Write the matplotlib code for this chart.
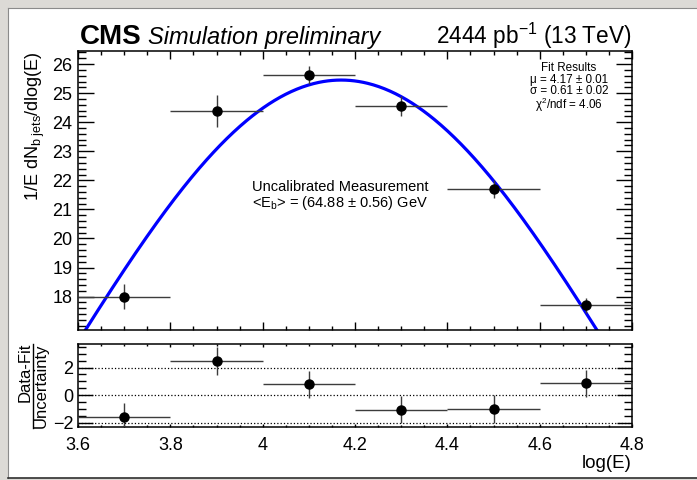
import numpy as np
import matplotlib.pyplot as plt
from matplotlib.ticker import MultipleLocator, FixedLocator
from matplotlib.patches import Rectangle
from matplotlib.lines import Line2D

plt.rcParams["font.family"] = ["Liberation Sans", "DejaVu Sans"]
plt.rcParams["mathtext.fontset"] = "custom"
plt.rcParams["mathtext.rm"] = "Liberation Sans"
plt.rcParams["mathtext.it"] = "Liberation Sans:italic"
plt.rcParams["mathtext.bf"] = "Liberation Sans:bold"

# b-jet energy spectrum, bins in log(E)
log_e = [3.7, 3.9, 4.1, 4.3, 4.5, 4.7]
bin_half = [0.1, 0.1, 0.1, 0.1, 0.1, 0.1]
density = [18.0, 24.37, 25.63, 24.55, 21.7, 17.7]
density_err = [0.42, 0.55, 0.32, 0.35, 0.3, 0.25]

# residuals (data - fit) / uncertainty
pull = [-1.6, 2.45, 0.78, -1.04, -0.99, 0.85]
pull_err = [1.0, 1.0, 1.0, 1.0, 1.0, 1.0]

# gaussian fit
fit_mu = 4.17
fit_sigma = 0.61
fit_amp = 25.45

W, H = 697, 480
fig = plt.figure(figsize=(W / 100, H / 100), dpi=100)


def fx(px):
    return px / W


def fy(py):
    return 1 - py / H


# window frame around the canvas
fig.patches.append(Rectangle((0, fy(7)), 1, 7 / H, transform=fig.transFigure,
                             color="#dcdad6", zorder=0))
fig.patches.append(Rectangle((0, 0), 7 / W, 1, transform=fig.transFigure,
                             color="#dcdad6", zorder=0))
fig.patches.append(Rectangle((0, 0), 1, 2 / H, transform=fig.transFigure,
                             color="#dcdad6", zorder=0))
fig.lines.append(Line2D([fx(7.5), 1], [fy(7.5), fy(7.5)], transform=fig.transFigure,
                        color="#8a8a8a", lw=0.8))
fig.lines.append(Line2D([fx(7.5), fx(7.5)], [fy(7.5), fy(478)], transform=fig.transFigure,
                        color="#8a8a8a", lw=0.8))
fig.lines.append(Line2D([fx(7.5), 1], [fy(478), fy(478)], transform=fig.transFigure,
                        color="#303030", lw=1.2))

left, right = 78, 632
ax = fig.add_axes([fx(left), fy(330), (right - left) / W, (330 - 51) / H])
ax2 = fig.add_axes([fx(left), fy(427), (right - left) / W, (427 - 344) / H])

# top panel: spectrum and fit
xs = np.linspace(3.6, 4.8, 500)
ax.plot(xs, fit_amp * np.exp(-(xs - fit_mu) ** 2 / (2 * fit_sigma ** 2)),
        color="#0000ff", lw=2.3, zorder=2)
ax.errorbar(log_e, density, xerr=bin_half, yerr=density_err, fmt="o", color="black",
            ms=6.5, ecolor="#3c3c3c", elinewidth=1, capsize=0, zorder=3)
ax.set_xlim(3.6, 4.8)
ax.set_ylim(16.85, 26.45)
ax.xaxis.set_major_locator(MultipleLocator(0.2))
ax.xaxis.set_minor_locator(MultipleLocator(0.05))
ax.yaxis.set_major_locator(FixedLocator(range(18, 27)))
ax.yaxis.set_minor_locator(MultipleLocator(0.2))
ax.tick_params(which="both", direction="in", top=True, right=True, labelbottom=False,
               labelsize=13, width=1)
ax.tick_params(axis="x", which="major", length=5.8)
ax.tick_params(axis="x", which="minor", length=2.9)
ax.tick_params(axis="y", which="major", length=11.5, pad=4)
ax.tick_params(axis="y", which="minor", length=5.8)

# fit summary box
for py, line in ((68, "Fit Results"),
                 (79.5, "μ = %.2f ± 0.01" % fit_mu),
                 (90.5, "σ = %.2f ± 0.02" % fit_sigma),
                 (105, r"χ$^{2}$/ndf = 4.06")):
    fig.text(fx(569), fy(py), line, ha="center", va="center", fontsize=8.4)

fig.text(fx(252), fy(187), "Uncalibrated Measurement", ha="left", va="center",
         fontsize=10.5)
fig.text(fx(252), fy(203), r"<E$_{\mathrm{b}}$> = (64.88 ± 0.56) GeV", ha="left",
         va="center", fontsize=10.5)

# bottom panel: residuals
for yv in (-2, 0, 2):
    ax2.axhline(yv, ls=":", color="black", lw=0.9, zorder=1)
ax2.errorbar(log_e, pull, xerr=bin_half, yerr=pull_err, fmt="o", color="black",
             ms=6.5, ecolor="#3c3c3c", elinewidth=1, capsize=0, zorder=3)
ax2.set_xlim(3.6, 4.8)
ax2.set_ylim(-2.3, 3.7)
ax2.xaxis.set_major_locator(MultipleLocator(0.2))
ax2.xaxis.set_minor_locator(MultipleLocator(0.05))
ax2.yaxis.set_major_locator(MultipleLocator(2))
ax2.yaxis.set_minor_locator(MultipleLocator(0.5))
ax2.xaxis.set_major_formatter(plt.FuncFormatter(lambda v, p: "%g" % round(v, 2)))
ax2.tick_params(which="both", direction="in", top=True, right=True, labelsize=13, width=1)
ax2.tick_params(axis="x", which="major", length=2.2, pad=7)
ax2.tick_params(axis="x", which="minor", length=1.1)
ax2.tick_params(axis="y", which="major", length=10.8, pad=3.5)
ax2.tick_params(axis="y", which="minor", length=5.8)

for a in (ax, ax2):
    for s in a.spines.values():
        s.set_linewidth(1.1)

# header and axis titles
fig.text(fx(80), fy(44), "CMS", fontsize=20, weight="bold", va="baseline")
fig.text(fx(148), fy(44), "Simulation preliminary", fontsize=17, style="italic",
         va="baseline")
fig.text(fx(632), fy(44), r"2444 pb$^{-1}$ (13 TeV)", fontsize=16.3, ha="right",
         va="baseline")
fig.text(fx(35), fy(51), r"1/E dN$_{\mathrm{b\ jets}}$/dlog(E)", rotation=90,
         ha="center", va="top", fontsize=13)
fig.text(fx(632), fy(468), "log(E)", ha="right", va="baseline", fontsize=13.5)

# fraction label for the residual panel
fig.text(fx(25), fy(372), "Data-Fit", rotation=90, ha="center", va="center", fontsize=12)
fig.text(fx(41.5), fy(386), "Uncertainty", rotation=90, ha="center", va="center",
         fontsize=12)
fig.lines.append(Line2D([fx(33), fx(33)], [fy(344), fy(428)], transform=fig.transFigure,
                        color="black", lw=1))

fig.savefig("out.png", dpi=100)
